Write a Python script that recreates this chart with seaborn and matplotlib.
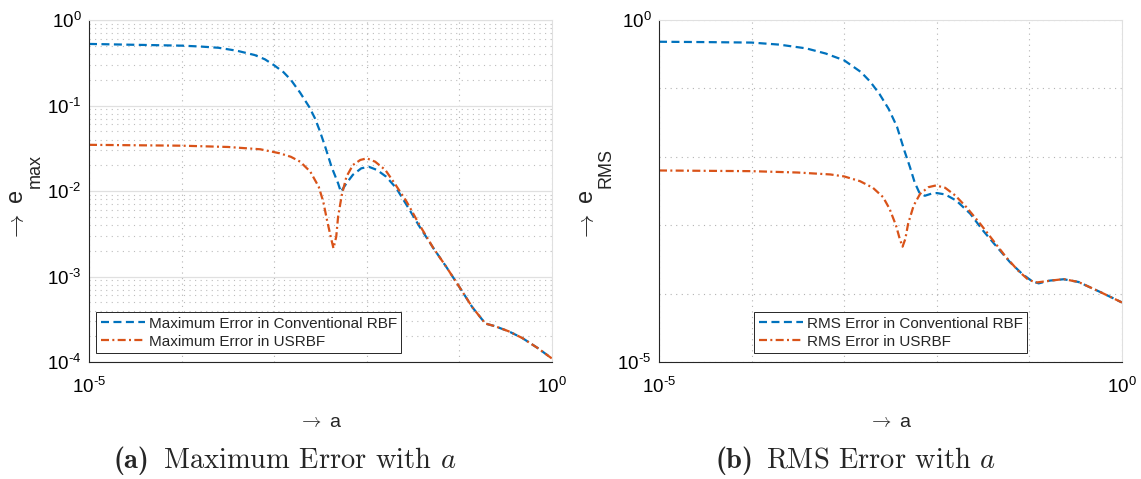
import numpy as np
import pandas as pd
import matplotlib
matplotlib.use("Agg")
import matplotlib.pyplot as plt
from matplotlib.ticker import FixedLocator, FixedFormatter, NullLocator, NullFormatter
import seaborn as sns

# ---- values (log10 of shape parameter a, log10 of error) ----
max_conv_log_a = [-5.0, -4.5, -4.0, -3.8, -3.6, -3.4, -3.21, -3.1, -3.0, -2.9, -2.82, -2.72,
                  -2.62, -2.56, -2.51, -2.45, -2.38, -2.31, -2.28, -2.22, -2.15, -2.06, -1.98,
                  -1.89, -1.79, -1.68, -1.57, -1.43, -1.28, -1.14, -0.99, -0.86, -0.72, -0.62,
                  -0.47, -0.32, -0.15, 0.0]
max_conv_log_err = [-0.28, -0.29, -0.30, -0.31, -0.325, -0.36, -0.41, -0.46, -0.53, -0.61, -0.70,
                    -0.85, -1.02, -1.15, -1.29, -1.48, -1.72, -1.91, -2.01, -1.91, -1.81, -1.735,
                    -1.716, -1.754, -1.833, -1.969, -2.164, -2.417, -2.67, -2.89, -3.14, -3.36,
                    -3.55, -3.58, -3.64, -3.72, -3.84, -3.96]

max_us_log_a = [-5.0, -4.5, -4.0, -3.5, -3.15, -2.94, -2.82, -2.72, -2.61, -2.52, -2.47, -2.43,
                -2.39, -2.36, -2.33, -2.31, -2.27, -2.22, -2.15, -2.07, -2.0, -1.91, -1.80,
                -1.70, -1.57, -1.43, -1.28, -1.14, -0.99, -0.86, -0.72, -0.62, -0.47, -0.32,
                -0.15, 0.0]
max_us_log_err = [-1.46, -1.465, -1.47, -1.485, -1.512, -1.559, -1.60, -1.657, -1.774, -1.949,
                  -2.125, -2.339, -2.534, -2.67, -2.534, -2.30, -2.047, -1.833, -1.696, -1.637,
                  -1.618, -1.657, -1.754, -1.91, -2.125, -2.398, -2.67, -2.89, -3.14, -3.36,
                  -3.55, -3.58, -3.64, -3.72, -3.84, -3.96]

rms_conv_log_a = [-5.0, -4.5, -4.0, -3.7, -3.41, -3.2, -3.0, -2.82, -2.72, -2.62, -2.52, -2.43,
                  -2.35, -2.29, -2.24, -2.19, -2.13, -2.06, -2.0, -1.91, -1.79, -1.64, -1.50,
                  -1.35, -1.21, -1.08, -0.97, -0.90, -0.78, -0.63, -0.47, -0.23, 0.0]
rms_conv_log_err = [-0.318, -0.323, -0.33, -0.36, -0.415, -0.49, -0.59, -0.76, -0.90, -1.08,
                    -1.30, -1.56, -1.91, -2.15, -2.37, -2.52, -2.57, -2.54, -2.53, -2.55, -2.64,
                    -2.83, -3.08, -3.32, -3.54, -3.71, -3.82, -3.85, -3.81, -3.79, -3.83, -3.98,
                    -4.13]

rms_us_log_a = [-5.0, -4.5, -4.0, -3.5, -3.15, -3.0, -2.83, -2.69, -2.58, -2.51, -2.44, -2.40,
                -2.37, -2.34, -2.31, -2.25, -2.18, -2.09, -2.01, -1.91, -1.80, -1.68, -1.53,
                -1.39, -1.25, -1.12, -1.01, -0.92, -0.78, -0.63, -0.47, -0.23, 0.0]
rms_us_log_err = [-2.20, -2.205, -2.21, -2.23, -2.258, -2.287, -2.356, -2.453, -2.59, -2.761,
                  -3.006, -3.201, -3.314, -3.201, -2.981, -2.713, -2.541, -2.444, -2.419, -2.453,
                  -2.566, -2.737, -2.981, -3.226, -3.47, -3.666, -3.80, -3.837, -3.812, -3.788,
                  -3.83, -3.98, -4.13]

max_labels = ["Maximum Error in Conventional RBF", "Maximum Error in USRBF"]
rms_labels = ["RMS Error in Conventional RBF", "RMS Error in USRBF"]
x_tick_labels = [r"$10^{\text{-}5}$", "", "", "", "", "$10^{0}$"]
max_y_tick_labels = [r"$10^{\text{-}4}$", r"$10^{\text{-}3}$", r"$10^{\text{-}2}$",
                     r"$10^{\text{-}1}$", "$10^{0}$"]
rms_y_tick_labels = [r"$10^{\text{-}5}$", "", "", "", "", "$10^{0}$"]
caption_tags = ["(a)", "(b)"]
caption_texts = ["Maximum Error with $a$", "RMS Error with $a$"]


def to_frame(labels, series):
    rows = []
    for label, (la, le) in zip(labels, series):
        rows.append(pd.DataFrame({"a": 10.0 ** np.asarray(la),
                                  "err": 10.0 ** np.asarray(le),
                                  "series": label}))
    return pd.concat(rows, ignore_index=True)


df_max = to_frame(max_labels, [(max_conv_log_a, max_conv_log_err), (max_us_log_a, max_us_log_err)])
df_rms = to_frame(rms_labels, [(rms_conv_log_a, rms_conv_log_err), (rms_us_log_a, rms_us_log_err)])

# ---- style ----
sns.set_theme(style="white")
plt.rcParams["font.family"] = ["Liberation Sans", "DejaVu Sans"]
plt.rcParams["mathtext.fontset"] = "custom"
plt.rcParams["mathtext.rm"] = "Liberation Sans"
plt.rcParams["mathtext.it"] = "Liberation Sans:italic"
plt.rcParams["mathtext.bf"] = "Liberation Sans:bold"

BLUE = "#0072BD"
ORANGE = "#D95319"
AXIS = "#262626"
DASH = (3.6, 2.0)
DASHDOT = (3.6, 1.5, 0.9, 1.5)
DOTTED = (0, (1, 4))

W, H = 1141, 479
fig = plt.figure(figsize=(W / 100, H / 100), dpi=100)
fig.patch.set_facecolor("white")
renderer = fig.canvas.get_renderer()


def px_rect(x0, y0, x1, y1):
    return [x0 / W, 1 - y1 / H, (x1 - x0) / W, (y1 - y0) / H]


def add_caption(tag, text, cx, baseline, size=20.5):
    """Bold tag followed by a roman caption, centred as one line at cx (pixels)."""
    t_tag = fig.text(0, 1 - baseline / H, tag, family="cmb10", fontsize=size,
                     ha="left", va="baseline")
    t_body = fig.text(0, 1 - baseline / H, text, family="cmr10", math_fontfamily="cm",
                      fontsize=size, ha="left", va="baseline")
    w_tag = t_tag.get_window_extent(renderer).width
    w_body = t_body.get_window_extent(renderer).width
    gap = 0.45 * size * 100 / 72
    x0 = cx - (w_tag + gap + w_body) / 2
    t_tag.set_x(x0 / W)
    t_body.set_x((x0 + w_tag + gap) / W)


def draw_panel(ax, df, labels, ymin, y_tick_labels, minor_grid, sub, legend_loc, legend_x):
    ax.set_xscale("log")
    ax.set_yscale("log")
    sns.lineplot(data=df, x="a", y="err", hue="series", style="series",
                 hue_order=labels, style_order=labels, palette=[BLUE, ORANGE],
                 dashes=[DASH, DASHDOT], linewidth=1.6, estimator=None, sort=False, ax=ax)
    ax.set_xlim(1e-5, 1.0)
    ax.set_ylim(ymin, 1.0)

    ax.xaxis.set_major_locator(FixedLocator(10.0 ** np.arange(-5, 1)))
    ax.xaxis.set_major_formatter(FixedFormatter(x_tick_labels))
    ax.xaxis.set_minor_locator(NullLocator())
    ydec = 10.0 ** np.arange(int(np.log10(ymin)), 1)
    ax.yaxis.set_major_locator(FixedLocator(ydec))
    ax.yaxis.set_major_formatter(FixedFormatter(y_tick_labels))
    if minor_grid:
        minors = [m * d for d in ydec[:-1] for m in range(2, 10)]
        ax.yaxis.set_minor_locator(FixedLocator(minors))
        ax.yaxis.set_minor_formatter(NullFormatter())
    else:
        ax.yaxis.set_minor_locator(NullLocator())

    ax.set_axisbelow(True)
    ax.grid(False)
    ax.xaxis.grid(True, which="major", linestyle=DOTTED, color="#b3b3b3", linewidth=0.8)
    if minor_grid:
        ax.yaxis.grid(True, which="major", linestyle="-", color="#e0e0e0", linewidth=0.9)
        ax.yaxis.grid(True, which="minor", linestyle=DOTTED, color="#bdbdbd", linewidth=0.8)
    else:
        ax.yaxis.grid(True, which="major", linestyle=DOTTED, color="#b3b3b3", linewidth=0.8)

    for side in ("left", "bottom"):
        ax.spines[side].set_color(AXIS)
        ax.spines[side].set_linewidth(0.8)
    for side in ("top", "right"):
        ax.spines[side].set_color("#e0e0e0")
        ax.spines[side].set_linewidth(0.8)

    ax.tick_params(which="both", direction="in", top=False, right=False,
                   color=AXIS, labelcolor="black", labelsize=13.5, width=0.7)
    ax.tick_params(which="major", length=4)
    ax.tick_params(which="minor", length=2.5)
    ax.tick_params(axis="x", pad=10.5)
    ax.tick_params(axis="y", pad=5.5)

    # axis labels (TeX-style arrow, sans-serif letters)
    ax.set_xlabel(r"$\rightarrow$ a", fontsize=14, va="baseline", math_fontfamily="cm")
    ax.xaxis.set_label_coords(0.5, (362 - 427) / 342)
    ax.set_ylabel(r"$\rightarrow$ e", fontsize=17, ha="right", va="baseline", math_fontfamily="cm")
    ax.yaxis.set_label_coords(-66 / 463, (362 - 189) / 342)
    ax.text(-49 / 463, (362 - 188) / 342, sub, transform=ax.transAxes, rotation=90,
            rotation_mode="anchor", ha="left", va="baseline", fontsize=13)

    sns.move_legend(ax, legend_loc, bbox_to_anchor=(legend_x, 0.026), title=None,
                    fontsize=11, frameon=True, fancybox=False, framealpha=1,
                    edgecolor=AXIS, borderaxespad=0, handlelength=2.9,
                    handletextpad=0.25, labelspacing=0.25, borderpad=0.3)
    ax.get_legend().get_frame().set_linewidth(0.7)


ax_max = fig.add_axes(px_rect(89, 20, 552, 362))
ax_rms = fig.add_axes(px_rect(659, 20, 1122, 362))

draw_panel(ax_max, df_max, max_labels, 1e-4, max_y_tick_labels, True, "max", "lower left", 0.015)
draw_panel(ax_rms, df_rms, rms_labels, 1e-5, rms_y_tick_labels, False, "RMS", "lower center", 0.5)

add_caption(caption_tags[0], caption_texts[0], 285, 468)
add_caption(caption_tags[1], caption_texts[1], 855.5, 468)

fig.savefig("out.png", dpi=100, facecolor="white")
